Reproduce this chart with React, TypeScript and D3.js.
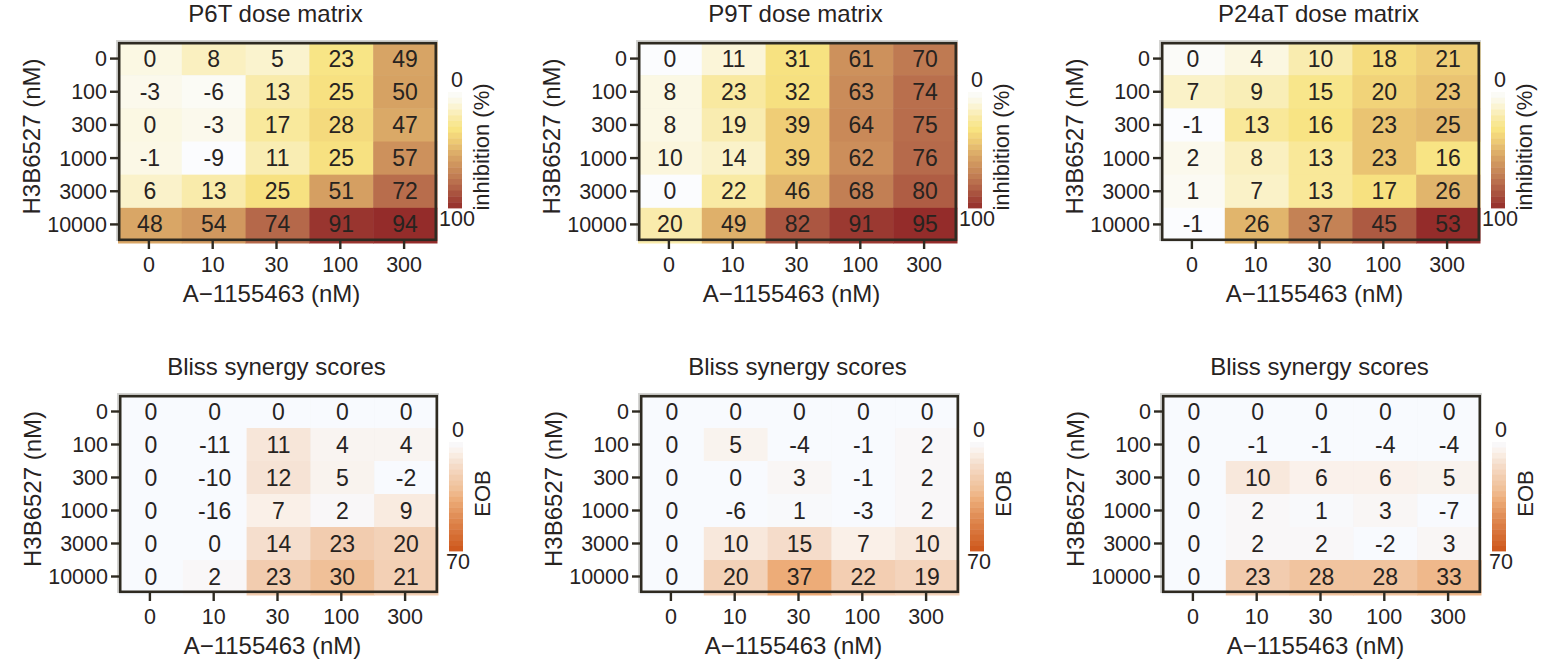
import React from "react";
import * as d3 from "d3";

// ---------- data ----------
const xDoses = ["0", "10", "30", "100", "300"]; // A-1155463 (nM)
const yDoses = ["0", "100", "300", "1000", "3000", "10000"]; // H3B6527 (nM)

const p6tInhibition = [
  [0, 8, 5, 23, 49],
  [-3, -6, 13, 25, 50],
  [0, -3, 17, 28, 47],
  [-1, -9, 11, 25, 57],
  [6, 13, 25, 51, 72],
  [48, 54, 74, 91, 94],
];
const p9tInhibition = [
  [0, 11, 31, 61, 70],
  [8, 23, 32, 63, 74],
  [8, 19, 39, 64, 75],
  [10, 14, 39, 62, 76],
  [0, 22, 46, 68, 80],
  [20, 49, 82, 91, 95],
];
const p24atInhibition = [
  [0, 4, 10, 18, 21],
  [7, 9, 15, 20, 23],
  [-1, 13, 16, 23, 25],
  [2, 8, 13, 23, 16],
  [1, 7, 13, 17, 26],
  [-1, 26, 37, 45, 53],
];
const p6tBliss = [
  [0, 0, 0, 0, 0],
  [0, -11, 11, 4, 4],
  [0, -10, 12, 5, -2],
  [0, -16, 7, 2, 9],
  [0, 0, 14, 23, 20],
  [0, 2, 23, 30, 21],
];
const p9tBliss = [
  [0, 0, 0, 0, 0],
  [0, 5, -4, -1, 2],
  [0, 0, 3, -1, 2],
  [0, -6, 1, -3, 2],
  [0, 10, 15, 7, 10],
  [0, 20, 37, 22, 19],
];
const p24atBliss = [
  [0, 0, 0, 0, 0],
  [0, -1, -1, -4, -4],
  [0, 10, 6, 6, 5],
  [0, 2, 1, 3, -7],
  [0, 2, 2, -2, 3],
  [0, 23, 28, 28, 33],
];

const topTitles = ["P6T dose matrix", "P9T dose matrix", "P24aT dose matrix"];
const bottomTitle = "Bliss synergy scores";
const inhibitionLegendLabels = ["0", "100"];
const blissLegendLabels = ["0", "70"];
const blissDomain = [0, 70];

// ---------- styles ----------
const FONT = "'Liberation Sans', Arial, Helvetica, sans-serif";
const INK = "#27231f";
const BORDER = "#2e2a21";

const inhibStops = [
  [0, "#fbfcfe"],
  [0.1, "#fbf7df"],
  [0.2, "#f9ecb0"],
  [0.32, "#f8e482"],
  [0.42, "#eecb75"],
  [0.55, "#d9a766"],
  [0.65, "#cc8f5b"],
  [0.8, "#b66a4b"],
  [1, "#942c2a"],
] as [number, string][];
const blissStops = [
  [0, "#f8fafe"],
  [0.1, "#faf0e8"],
  [0.2, "#f5decd"],
  [0.3, "#f3d0b5"],
  [0.43, "#f0c098"],
  [0.53, "#edac78"],
  [0.7, "#df8a52"],
  [1, "#cd561a"],
] as [number, string][];

const inhibGrad = d3
  .scaleLinear<string>()
  .domain(inhibStops.map((s) => s[0]))
  .range(inhibStops.map((s) => s[1]))
  .interpolate(d3.interpolateRgb)
  .clamp(true);
const blissGrad = d3
  .scaleLinear<string>()
  .domain(blissStops.map((s) => s[0]))
  .range(blissStops.map((s) => s[1]))
  .interpolate(d3.interpolateRgb)
  .clamp(true);

type PanelProps = {
  x0: number;
  y0: number;
  w: number;
  h: number;
  title: string;
  values: number[][];
  color: (v: number) => string;
  grad: (t: number) => string;
  legendLabels: string[];
  legendTitle: string;
  legendTop: number;
  legendBottom: number;
};

function Panel(p: PanelProps) {
  const x = d3.scaleBand<string>().domain(xDoses).range([p.x0, p.x0 + p.w]);
  const y = d3.scaleBand<string>().domain(yDoses).range([p.y0, p.y0 + p.h]);
  const x1 = p.x0 + p.w;
  const y1 = p.y0 + p.h;
  const nBands = 20;
  const legX = x1 + 11;
  const legW = 14;
  const bandH = (p.legendBottom - p.legendTop) / nBands;
  return (
    <g>
      <text
        x={p.x0 + p.w / 2 - 2}
        y={p.y0 - 20}
        textAnchor="middle"
        fontSize={24}
        fill={INK}
      >
        {p.title}
      </text>
      {/* light panel shade */}
      <rect x={p.x0 - 2} y={p.y0 - 2} width={p.w + 3} height={p.h + 2} fill="#d4d4d2" />
      {p.values.map((row, ri) =>
        row.map((v, ci) => (
          <rect
            key={`c${ri}-${ci}`}
            x={x(xDoses[ci])!}
            y={y(yDoses[ri])! + (ri === 0 ? 0 : 0)}
            width={x.bandwidth() + 0.5}
            height={y.bandwidth() + (ri === yDoses.length - 1 ? 2.5 : 0.5)}
            fill={p.color(v)}
          />
        ))
      )}
      {p.values.map((row, ri) =>
        row.map((v, ci) => (
          <text
            key={`t${ri}-${ci}`}
            x={x(xDoses[ci])! + x.bandwidth() / 2}
            y={y(yDoses[ri])! + y.bandwidth() / 2 + 8}
            textAnchor="middle"
            fontSize={23}
            fill={INK}
          >
            {String(v)}
          </text>
        ))
      )}
      <rect
        x={p.x0 + 1.2}
        y={p.y0 + 1.2}
        width={p.w - 2.4}
        height={p.h - 2.4}
        fill="none"
        stroke={BORDER}
        strokeWidth={2.6}
      />
      {/* y axis */}
      {yDoses.map((d) => (
        <g key={`y${d}`}>
          <line
            x1={p.x0 - 8}
            x2={p.x0}
            y1={y(d)! + y.bandwidth() / 2}
            y2={y(d)! + y.bandwidth() / 2}
            stroke={BORDER}
            strokeWidth={2.4}
          />
          <text
            x={p.x0 - 11}
            y={y(d)! + y.bandwidth() / 2 + 7.5}
            textAnchor="end"
            fontSize={21.5}
            fill={INK}
          >
            {d}
          </text>
        </g>
      ))}
      {/* x axis */}
      {xDoses.map((d) => (
        <g key={`x${d}`}>
          <line
            x1={x(d)! + x.bandwidth() / 2 - 1}
            x2={x(d)! + x.bandwidth() / 2 - 1}
            y1={y1}
            y2={y1 + 8}
            stroke={BORDER}
            strokeWidth={2.4}
          />
          <text
            x={x(d)! + x.bandwidth() / 2 - 1}
            y={y1 + 30.5}
            textAnchor="middle"
            fontSize={21.5}
            fill={INK}
          >
            {d}
          </text>
        </g>
      ))}
      <text
        x={p.x0 + p.w / 2 - 6}
        y={y1 + 61}
        textAnchor="middle"
        fontSize={24}
        fill={INK}
      >
        A−1155463 (nM)
      </text>
      <text
        transform={`translate(${p.x0 - 78},${p.y0 + p.h / 2 - 5}) rotate(-90)`}
        textAnchor="middle"
        fontSize={24}
        fill={INK}
      >
        H3B6527 (nM)
      </text>
      {/* legend */}
      {d3.range(nBands).map((i) => (
        <rect
          key={`lb${i}`}
          x={legX}
          y={p.legendTop + i * bandH}
          width={legW}
          height={bandH + 0.4}
          fill={p.grad((i + 0.5) / nBands)}
        />
      ))}
      <text x={legX + 9} y={p.legendTop - 5} textAnchor="middle" fontSize={21.5} fill={INK}>
        {p.legendLabels[0]}
      </text>
      <text x={legX + 9} y={p.legendBottom + 18} textAnchor="middle" fontSize={21.5} fill={INK}>
        {p.legendLabels[1]}
      </text>
      <text
        transform={`translate(${x1 + 44},${(p.legendTop + p.legendBottom) / 2 - 3}) rotate(-90)`}
        textAnchor="middle"
        dominantBaseline="central"
        fontSize={22}
        fill={INK}
      >
        {p.legendTitle}
      </text>
    </g>
  );
}

export default function App() {
  const topLefts = [118, 638, 1161];
  const bottomLefts = [119, 640, 1162];
  const inhibData = [p6tInhibition, p9tInhibition, p24atInhibition];
  const blissData = [p6tBliss, p9tBliss, p24atBliss];
  return (
    <svg
      width={1547}
      height={666}
      style={{ position: "absolute", left: 0, top: 0, background: "#ffffff", fontFamily: FONT }}
    >
      <rect x={0} y={0} width={1547} height={666} fill="#ffffff" />
      {inhibData.map((vals, i) => {
        const flat = vals.flat();
        const sc = d3.scaleLinear().domain([d3.min(flat)!, d3.max(flat)!]).range([0, 1]).clamp(true);
        return (
          <Panel
            key={`top${i}`}
            x0={topLefts[i]}
            y0={42}
            w={319}
            h={199}
            title={topTitles[i]}
            values={vals}
            color={(v) => inhibGrad(sc(v))}
            grad={(t) => inhibGrad(t)}
            legendLabels={inhibitionLegendLabels}
            legendTitle="inhibition (%)"
            legendTop={92}
            legendBottom={208}
          />
        );
      })}
      {blissData.map((vals, i) => {
        const sc = d3.scaleLinear().domain(blissDomain).range([0, 1]).clamp(true);
        return (
          <Panel
            key={`bot${i}`}
            x0={bottomLefts[i]}
            y0={395}
            w={319}
            h={198}
            title={bottomTitle}
            values={vals}
            color={(v) => blissGrad(sc(v))}
            grad={(t) => blissGrad(t)}
            legendLabels={blissLegendLabels}
            legendTitle="EOB"
            legendTop={442}
            legendBottom={551}
          />
        );
      })}
    </svg>
  );
}
